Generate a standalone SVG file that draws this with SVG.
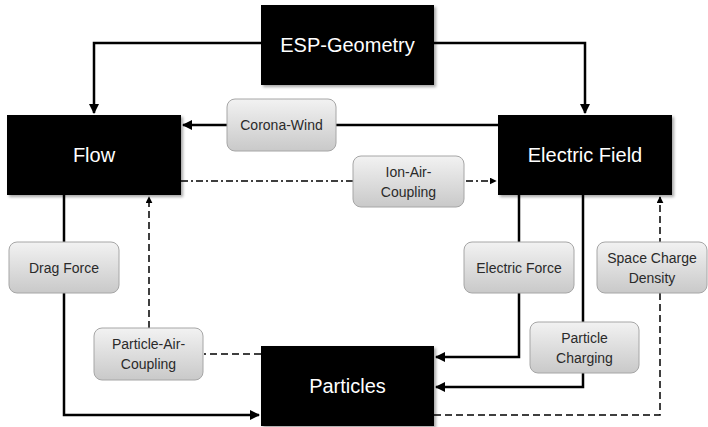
<svg xmlns="http://www.w3.org/2000/svg" width="708" height="427" viewBox="0 0 708 427">
<defs>
<linearGradient id="lg" x1="0" y1="0" x2="0" y2="1">
<stop offset="0" stop-color="#f2f2f2"/>
<stop offset="1" stop-color="#c9c9c9"/>
</linearGradient>
<filter id="sh" x="-10%" y="-10%" width="125%" height="130%">
<feDropShadow dx="2" dy="2" stdDeviation="1.5" flood-color="#000" flood-opacity="0.35"/>
</filter>
<marker id="ah" viewBox="0 0 10 10" refX="9" refY="5" markerWidth="10" markerHeight="10" markerUnits="userSpaceOnUse" orient="auto">
<path d="M0,0 L10,5 L0,10 z" fill="#000"/>
</marker>
<marker id="ahs" viewBox="0 0 10 10" refX="9" refY="5" markerWidth="7" markerHeight="7" markerUnits="userSpaceOnUse" orient="auto">
<path d="M0,0 L10,5 L0,10 z" fill="#000"/>
</marker>
</defs>
<style>
.big rect{fill:#000;filter:url(#sh)}
.big text{fill:#fff;font-family:"Liberation Sans",Arial,sans-serif;font-size:20px;text-anchor:middle}
.lab rect{fill:url(#lg);stroke:#a6a6a6;stroke-width:1}
.lab text{fill:#2a2a2a;font-family:"Liberation Sans",Arial,sans-serif;font-size:14px;text-anchor:middle}
.solid{fill:none;stroke:#000;stroke-width:2.5}
.dash{fill:none;stroke:#000;stroke-width:1.5;stroke-dasharray:7,4}
.dashdot{fill:none;stroke:#000;stroke-width:1.5;stroke-dasharray:7,3,2,3}
</style>
<g id="connectors">
<path class="solid" d="M261,43 H94 V113" marker-end="url(#ah)"/>
<path class="solid" d="M434,43 H585 V113" marker-end="url(#ah)"/>
<path class="solid" d="M498,125 H183" marker-end="url(#ah)"/>
<path class="dashdot" d="M181,181 H496" marker-end="url(#ahs)"/>
<path class="solid" d="M64,195 V415 H259" marker-end="url(#ah)"/>
<path class="dash" d="M261,354 H204"/>
<path class="dash" d="M149,328 V197" marker-end="url(#ahs)"/>
<path class="solid" d="M519,195 V357 H436" marker-end="url(#ah)"/>
<path class="solid" d="M583,195 V387 H436" marker-end="url(#ah)"/>
<path class="dash" d="M434,415 H660 V197" marker-end="url(#ahs)"/>
</g>
<g id="esp-geometry" class="big"><rect x="261" y="5" width="173" height="80"/><text x="347.5" y="52">ESP-Geometry</text></g>
<g id="flow" class="big"><rect x="7" y="115" width="174" height="80"/><text x="94" y="162">Flow</text></g>
<g id="electric-field" class="big"><rect x="498" y="115" width="174" height="80"/><text x="585" y="162">Electric Field</text></g>
<g id="particles" class="big"><rect x="261" y="346" width="173" height="80"/><text x="347.5" y="393">Particles</text></g>
<g id="corona-wind" class="lab"><rect x="227" y="99" width="109" height="52" rx="8"/><text x="281.5" y="130">Corona-Wind</text></g>
<g id="ion-air-coupling" class="lab"><rect x="353" y="156" width="111" height="51" rx="8"/><text x="408.5" y="177">Ion-Air-</text><text x="408.5" y="197">Coupling</text></g>
<g id="drag-force" class="lab"><rect x="9" y="242" width="110" height="51" rx="8"/><text x="64" y="273">Drag Force</text></g>
<g id="particle-air-coupling" class="lab"><rect x="94" y="328" width="109" height="52" rx="8"/><text x="148.5" y="349">Particle-Air-</text><text x="148.5" y="369">Coupling</text></g>
<g id="electric-force" class="lab"><rect x="464" y="242" width="110" height="51" rx="8"/><text x="519" y="273">Electric Force</text></g>
<g id="particle-charging" class="lab"><rect x="530" y="322" width="109" height="51" rx="8"/><text x="584.5" y="343">Particle</text><text x="584.5" y="363">Charging</text></g>
<g id="space-charge-density" class="lab"><rect x="597" y="242" width="110" height="51" rx="8"/><text x="652" y="263">Space Charge</text><text x="652" y="283">Density</text></g>
</svg>
